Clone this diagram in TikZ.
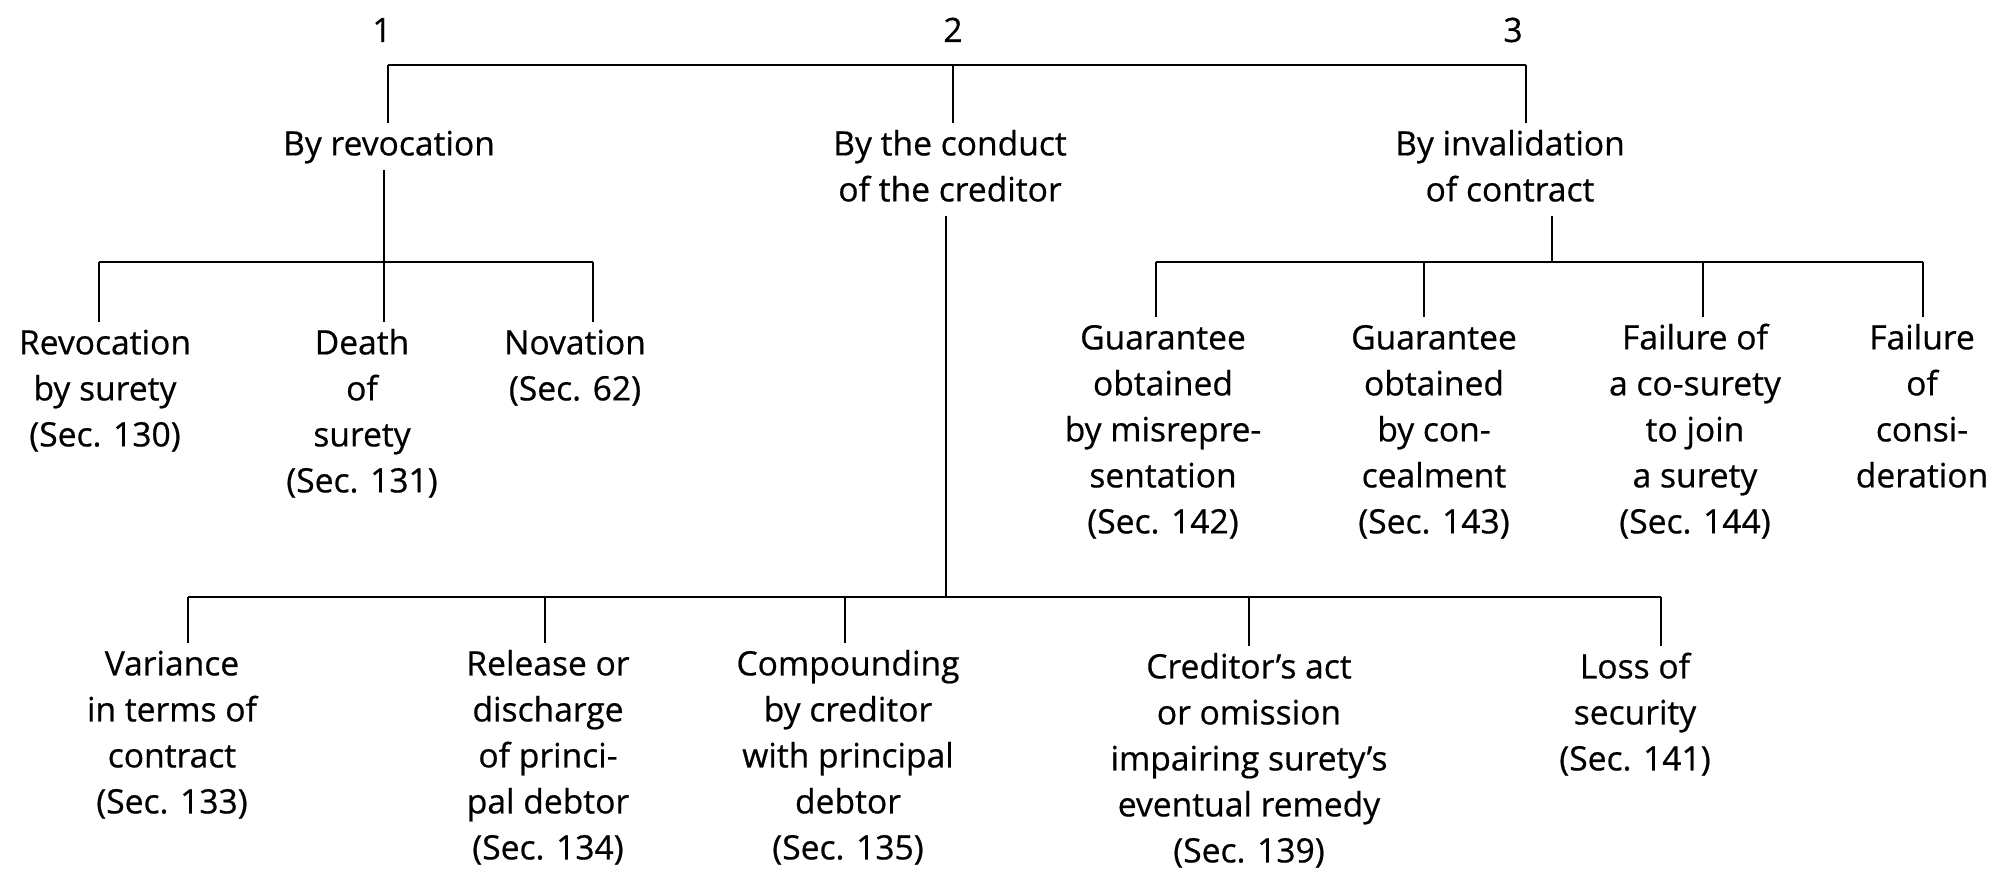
\documentclass[tikz,border=0pt]{standalone}
\usepackage{fontspec}
\setmainfont{Open Sans}[FakeBold=0.6]
\newcommand\lblfont{\fontsize{16.8}{23}\selectfont}
\begin{document}
\begin{tikzpicture}[x=0.5pt,y=-0.5pt,
  lbl/.style={align=center, inner sep=0pt, anchor=north, yshift=16.1pt, font=\lblfont},
  num/.style={inner sep=0pt, anchor=base, font=\lblfont},
  conn/.style={line width=1.2pt, black}]
\useasboundingbox (0,0) rectangle (1993,876);
% numbers
\node[num] (n1) at (382,42) {1};
\node[num] (n2) at (953,42) {2};
\node[num] (n3) at (1513,42) {3};
% level 1
\node[lbl] (rev) at (389,155) {\strut By revocation\strut};
\node[lbl] (cond) at (950,155) {\strut By the conduct\\of the creditor\strut};
\node[lbl] (inv) at (1510,155) {\strut By invalidation\\of contract\strut};
% revocation children
\node[lbl] (rs) at (105,354) {\strut Revocation\\by surety\\(Sec. 130)};
\node[lbl] (ds) at (362,354) {\strut Death\\of\\surety\\(Sec. 131)};
\node[lbl] (nov) at (575,354) {\strut Novation\\(Sec. 62)};
% invalidation children
\node[lbl] (g1) at (1163,349) {\strut Guarantee\\obtained\\by misrepre-\\sentation\\(Sec. 142)};
\node[lbl] (g2) at (1434,349) {\strut Guarantee\\obtained\\by con-\\cealment\\(Sec. 143)};
\node[lbl] (fc) at (1695,349) {\strut Failure of\\a co-surety\\to join\\a surety\\(Sec. 144)};
\node[lbl] (fcons) at (1922,349) {\strut Failure\\of\\consi-\\deration};
% creditor children
\node[lbl] (var) at (172,675) {\strut Variance\\in terms of\\contract\\(Sec. 133)};
\node[lbl] (rel) at (548,675) {\strut Release or\\discharge\\of princi-\\pal debtor\\(Sec. 134)};
\node[lbl] (comp) at (848,675) {\strut Compounding\\by creditor\\with principal\\debtor\\(Sec. 135)};
\node[lbl] (cred) at (1249,678) {\strut Creditor’s act\\or omission\\impairing surety’s\\eventual remedy\\(Sec. 139)};
\node[lbl] (loss) at (1635,678) {\strut Loss of\\security\\(Sec. 141)};
% top bar
\coordinate (t1) at (388,65);
\coordinate (t2) at (953,65);
\coordinate (t3) at (1526,65);
\draw[conn] (t1) -- (t3);
\draw[conn] (t1) -- (t1 |- rev.north);
\draw[conn] (t2) -- (t2 |- cond.north);
\draw[conn] (t3) -- (t3 |- inv.north);
% revocation branch
\coordinate (rb) at (384,262);
\coordinate (rb1) at (99,262);
\coordinate (rb3) at (593,262);
\draw[conn] (rb |- rev.south) -- (rb);
\draw[conn] (rb1) -- (rb3);
\draw[conn] (rb1) -- (rb1 |- rs.north);
\draw[conn] (rb) -- (rb |- ds.north);
\draw[conn] (rb3) -- (rb3 |- nov.north);
% invalidation branch
\coordinate (ib) at (1552,262);
\coordinate (ib1) at (1156,262);
\coordinate (ib2) at (1424,262);
\coordinate (ib3) at (1703,262);
\coordinate (ib4) at (1923,262);
\draw[conn] (ib |- inv.south) -- (ib);
\draw[conn] (ib1) -- (ib4);
\draw[conn] (ib1) -- (ib1 |- g1.north);
\draw[conn] (ib2) -- (ib2 |- g2.north);
\draw[conn] (ib3) -- (ib3 |- fc.north);
\draw[conn] (ib4) -- (ib4 |- fcons.north);
% creditor branch
\coordinate (cb) at (946,597);
\coordinate (cb1) at (188,597);
\coordinate (cb2) at (545,597);
\coordinate (cb3) at (845,597);
\coordinate (cb4) at (1249,597);
\coordinate (cb5) at (1661,597);
\draw[conn] (cb |- cond.south) -- (cb);
\draw[conn] (cb1) -- (cb5);
\draw[conn] (cb1) -- (cb1 |- var.north);
\draw[conn] (cb2) -- (cb2 |- rel.north);
\draw[conn] (cb3) -- (cb3 |- comp.north);
\draw[conn] (cb4) -- (cb4 |- cred.north);
\draw[conn] (cb5) -- (cb5 |- loss.north);
\end{tikzpicture}
\end{document}
